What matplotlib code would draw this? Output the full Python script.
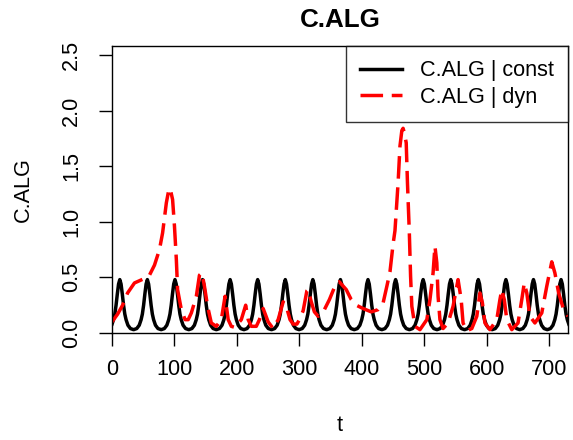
import matplotlib
matplotlib.use('Agg')
import matplotlib.pyplot as plt

plt.rcParams['font.family'] = ['Liberation Sans', 'DejaVu Sans']

const_peaks = [12.5, 56.6, 100.8, 144.9, 189.1, 233.2, 277.4, 321.5, 365.7,
               409.8, 454.0, 498.1, 542.3, 586.4, 630.6, 674.7, 718.9]
cycle_dt = [-22, -17, -13, -10, -8, -6, -4, -2, 0, 2, 4, 6, 8, 10, 13, 17, 22]
cycle_val = [0.03, 0.04, 0.07, 0.12, 0.17, 0.25, 0.35, 0.44, 0.48,
             0.44, 0.35, 0.25, 0.17, 0.12, 0.07, 0.04, 0.03]

# red dashed curve
dyn_t = [0, 9, 17, 25, 36, 52, 60, 68, 76, 81, 87, 91, 93, 97, 100, 103, 105,
         111, 117, 122, 127, 135, 140, 144, 148, 153, 159, 167, 175, 181, 186,
         191, 197, 207, 214, 218, 223, 231, 236, 242, 250, 258, 266, 274, 279,
         285, 290, 296, 300, 306, 312, 314, 319, 324, 330, 340, 348, 359, 364,
         375, 383, 391, 402, 415, 426, 434, 440, 445, 450, 453, 458, 461, 464,
         466, 468, 471, 473, 476, 478, 480, 485, 493, 504, 509, 514, 517, 520,
         522, 525, 530, 538, 546, 554, 559, 562, 568, 576, 584, 589, 593, 597,
         605, 616, 621, 624, 628, 632, 640, 650, 656, 660, 664, 669, 677, 688,
         696, 704, 709, 715, 723, 730]
dyn_val = [0.10, 0.17, 0.25, 0.36, 0.45, 0.49, 0.52, 0.61, 0.75, 0.90, 1.17,
           1.29, 1.30, 1.20, 0.96, 0.66, 0.39, 0.21, 0.12, 0.12, 0.18, 0.33,
           0.52, 0.54, 0.42, 0.24, 0.09, 0.06, 0.12, 0.33, 0.12, 0.06, 0.05,
           0.12, 0.25, 0.12, 0.06, 0.06, 0.12, 0.22, 0.10, 0.04, 0.12, 0.28,
           0.24, 0.12, 0.08, 0.08, 0.12, 0.20, 0.38, 0.39, 0.28, 0.19, 0.15,
           0.21, 0.30, 0.45, 0.46, 0.39, 0.30, 0.25, 0.22, 0.19, 0.21, 0.27,
           0.42, 0.55, 0.80, 0.92, 1.35, 1.68, 1.82, 1.84, 1.80, 1.71, 1.35,
           0.90, 0.51, 0.24, 0.06, 0.03, 0.12, 0.30, 0.54, 0.78, 0.63, 0.33,
           0.12, 0.04, 0.09, 0.24, 0.48, 0.30, 0.09, 0.02, 0.04, 0.15, 0.36,
           0.27, 0.09, 0.03, 0.12, 0.30, 0.39, 0.30, 0.12, 0.03, 0.09, 0.30,
           0.45, 0.36, 0.15, 0.09, 0.18, 0.42, 0.64, 0.54, 0.36, 0.21, 0.15]

x_ticks = [0, 100, 200, 300, 400, 500, 600, 700]
y_ticks = [0.0, 0.5, 1.0, 1.5, 2.0, 2.5]

const_t = []
const_val = []
for p in const_peaks:
    for dt, v in zip(cycle_dt, cycle_val):
        const_t.append(p + dt)
        const_val.append(v)

fs = 15.6
W, H = 573, 440
fig = plt.figure(figsize=(W / 100, H / 100), dpi=100)
ax = fig.add_axes([112 / W, 1 - 333 / H, (568 - 112) / W, (333 - 46) / H])

ax.plot(const_t, const_val, color='black', lw=2.5, label='C.ALG | const')
ax.plot(dyn_t, dyn_val, color='red', lw=2.5, dashes=(6.5, 2.5), label='C.ALG | dyn')

ax.set_xlim(0, 730)
ax.set_ylim(0, 2.58)
ax.set_xticks(x_ticks)
ax.set_xticklabels([str(v) for v in x_ticks])
ax.set_yticks(y_ticks)
ax.set_yticklabels(['%.1f' % v for v in y_ticks], rotation=90, va='center')
ax.tick_params(length=9.5, width=1, labelsize=fs, direction='out')
ax.tick_params(axis='x', pad=9)
ax.tick_params(axis='y', pad=12)
for s in ax.spines.values():
    s.set_linewidth(1)

ax.set_title('C.ALG', fontsize=fs * 1.2, fontweight='bold', pad=14)
fig.text(340 / W, 1 - 425 / H, 't', fontsize=fs, ha='center', va='center')
fig.text(23 / W, 1 - 190 / H, 'C.ALG', fontsize=fs, ha='center', va='center', rotation=90)

leg = ax.legend(loc='upper right', fontsize=fs, frameon=True, fancybox=False,
                borderaxespad=0, handlelength=1.95, handletextpad=0.83,
                labelspacing=0.25, borderpad=0.65)
leg.get_frame().set_edgecolor('black')
leg.get_frame().set_linewidth(1)

fig.savefig('out.png', dpi=100)
